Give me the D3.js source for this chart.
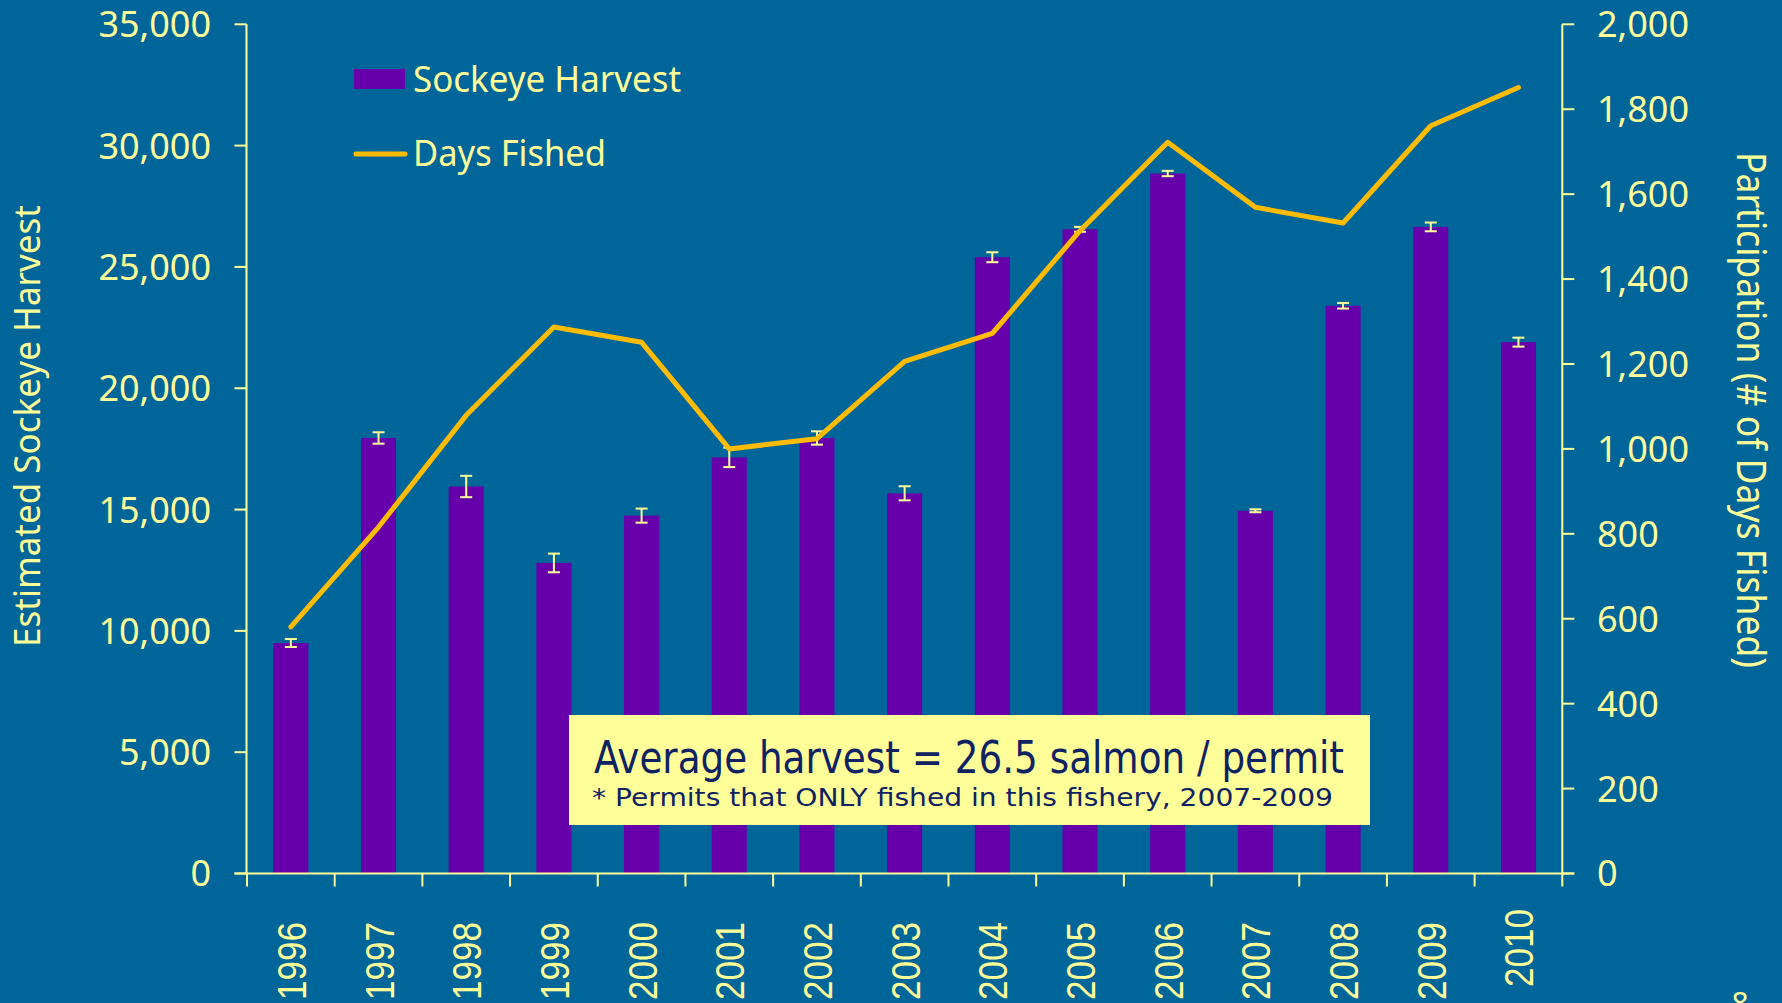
<!DOCTYPE html>
<html>
<head>
<meta charset="utf-8">
<script src="https://cdn.jsdelivr.net/npm/d3@7"></script>
<style>
  html, body { margin: 0; padding: 0; background: #006699; overflow: hidden; }
  svg { display: block; }
  text { font-family: "Noto Sans", "DejaVu Sans", sans-serif; }
</style>
</head>
<body>
<svg id="chart" width="1782" height="1003"></svg>
<script>
// ---- Data ----
const years = ["1996","1997","1998","1999","2000","2001","2002","2003","2004","2005","2006","2007","2008","2009","2010"];
const sockeyeHarvest = [9500, 17950, 15950, 12800, 14750, 17150, 17950, 15670, 25400, 26550, 28850, 14950, 23400, 26650, 21900];
const harvestError = [165, 235, 440, 385, 290, 400, 275, 290, 205, 100, 110, 60, 115, 180, 185];
const daysFished = [581, 816, 1079, 1287, 1251, 1000, 1024, 1206, 1272, 1514, 1722, 1569, 1532, 1761, 1851];
const leftTicks = [0, 5000, 10000, 15000, 20000, 25000, 30000, 35000];
const rightTicks = [0, 200, 400, 600, 800, 1000, 1200, 1400, 1600, 1800, 2000];
const legendLabels = ["Sockeye Harvest", "Days Fished"];
const leftTitle = "Estimated Sockeye Harvest";
const rightTitle = "Participation (# of Days Fished)";
const noteMain = "Average harvest = 26.5 salmon / permit";
const noteSub = "* Permits that ONLY fished in this fishery, 2007-2009";

// ---- Style ----
const BG = "#006699", BAR = "#6600AA", LINE = "#FFBB00", TXT = "#FFFF99", NOTE = "#0F2262";

const svg = d3.select("#chart");
svg.append("rect").attr("width", 1782).attr("height", 1003).attr("fill", BG);

const xL = 247, xR = 1562.3, yTop = 24.3, yBot = 873.5;
const x = d3.scaleBand().domain(years).range([xL, xR]).paddingInner(0.6).paddingOuter(0.3);
const yL = d3.scaleLinear().domain([0, 35000]).range([yBot, yTop]);
const yR = d3.scaleLinear().domain([0, 2000]).range([yBot, yTop]);
const fmt = d3.format(",");

// Bars
svg.append("g").selectAll("rect").data(years).join("rect")
  .attr("x", d => x(d)).attr("width", x.bandwidth())
  .attr("y", (d, i) => yL(sockeyeHarvest[i]))
  .attr("height", (d, i) => yBot - yL(sockeyeHarvest[i]))
  .attr("fill", BAR);

// Error bars
const eb = svg.append("g").attr("stroke", TXT).attr("stroke-width", 2).attr("fill", "none");
years.forEach((d, i) => {
  const cx = x(d) + x.bandwidth() / 2;
  const y1 = yL(sockeyeHarvest[i] + harvestError[i]);
  const y2 = yL(sockeyeHarvest[i] - harvestError[i]);
  eb.append("line").attr("x1", cx).attr("x2", cx).attr("y1", y1).attr("y2", y2);
  eb.append("line").attr("x1", cx - 6).attr("x2", cx + 6).attr("y1", y1).attr("y2", y1);
  eb.append("line").attr("x1", cx - 6).attr("x2", cx + 6).attr("y1", y2).attr("y2", y2);
});

// Axes
const ax = svg.append("g").attr("stroke", TXT).attr("stroke-width", 2);
ax.append("line").attr("x1", xL - 0.5).attr("x2", xL - 0.5).attr("y1", yTop).attr("y2", yBot);
leftTicks.forEach(t => {
  ax.append("line").attr("x1", xL - 12.5).attr("x2", xL - 0.5).attr("y1", yL(t)).attr("y2", yL(t));
});
ax.append("line").attr("x1", xR).attr("x2", xR).attr("y1", yTop).attr("y2", yBot);
rightTicks.forEach(t => {
  ax.append("line").attr("x1", xR).attr("x2", xR + 12).attr("y1", yR(t)).attr("y2", yR(t));
});
ax.append("line").attr("x1", xL - 12.5).attr("x2", xR + 12).attr("y1", yBot).attr("y2", yBot);
const boundaries = years.map(d => x(d) - x.step() * x.paddingInner() / 2).concat([xR]);
boundaries.forEach(b => {
  ax.append("line").attr("x1", b).attr("x2", b).attr("y1", yBot).attr("y2", yBot + 13);
});

// Tick labels
svg.append("g").selectAll("text").data(leftTicks).join("text")
  .attr("x", 211).attr("y", d => yL(d)).attr("dy", "0.36em")
  .attr("text-anchor", "end").attr("fill", TXT).attr("font-size", 36)
  .text(d => fmt(d));
svg.append("g").selectAll("text").data(rightTicks).join("text")
  .attr("x", 1597).attr("y", d => yR(d)).attr("dy", "0.36em")
  .attr("text-anchor", "start").attr("fill", TXT).attr("font-size", 36)
  .text(d => fmt(d));

// Year labels (rotated)
svg.append("g").selectAll("text").data(years).join("text")
  .attr("transform", d => `translate(${x(d) + x.bandwidth() / 2 + 15},${d === "2010" ? 909 : 922}) rotate(-90)`)
  .attr("text-anchor", "end").attr("fill", TXT)
  .style("font-family", "'Liberation Sans', Arial, sans-serif")
  .attr("font-size", 41).attr("textLength", 78).attr("lengthAdjust", "spacingAndGlyphs")
  .text(d => d);

// Axis titles
svg.append("text")
  .attr("transform", "translate(39.5,426) rotate(-90)")
  .attr("text-anchor", "middle").attr("fill", TXT).attr("font-size", 36)
  .attr("textLength", 442).attr("lengthAdjust", "spacingAndGlyphs")
  .text(leftTitle);
svg.append("text")
  .attr("transform", "translate(1737,410) rotate(90)")
  .attr("text-anchor", "middle").attr("fill", TXT).attr("font-size", 40)
  .attr("textLength", 516).attr("lengthAdjust", "spacingAndGlyphs")
  .text(rightTitle);

// Line
const line = d3.line()
  .x((d, i) => x(years[i]) + x.bandwidth() / 2)
  .y(d => yR(d));
svg.append("path").datum(daysFished)
  .attr("d", line).attr("fill", "none").attr("stroke", LINE)
  .attr("stroke-width", 5).attr("stroke-linejoin", "round").attr("stroke-linecap", "round");

// Legend
svg.append("rect").attr("x", 354).attr("y", 69).attr("width", 51).attr("height", 20).attr("fill", BAR);
svg.append("line").attr("x1", 356).attr("x2", 405).attr("y1", 154).attr("y2", 154)
  .attr("stroke", LINE).attr("stroke-width", 5).attr("stroke-linecap", "round");
svg.append("text").attr("x", 413).attr("y", 92).attr("fill", TXT).attr("font-size", 36)
  .attr("textLength", 268).attr("lengthAdjust", "spacingAndGlyphs").text(legendLabels[0]);
svg.append("text").attr("x", 413).attr("y", 166).attr("fill", TXT).attr("font-size", 36)
  .attr("textLength", 193).attr("lengthAdjust", "spacingAndGlyphs").text(legendLabels[1]);

// Note box
svg.append("rect").attr("x", 569).attr("y", 715).attr("width", 801).attr("height", 110).attr("fill", "#FFFF99");
svg.append("text").attr("x", 594).attr("y", 773).attr("fill", NOTE)
  .style("font-family", "'DejaVu Sans', 'Noto Sans', sans-serif").attr("font-size", 45)
  .attr("textLength", 750).attr("lengthAdjust", "spacingAndGlyphs").text(noteMain);
svg.append("text").attr("x", 592).attr("y", 806).attr("fill", NOTE)
  .style("font-family", "'DejaVu Sans', 'Noto Sans', sans-serif").attr("font-size", 24)
  .attr("textLength", 741).attr("lengthAdjust", "spacingAndGlyphs").text(noteSub);

// stray slide number glyph at bottom-right edge
svg.append("text").attr("x", 1740).attr("y", 1014).attr("text-anchor", "middle")
  .attr("fill", TXT).attr("font-size", 30).text("8");
</script>
</body>
</html>
